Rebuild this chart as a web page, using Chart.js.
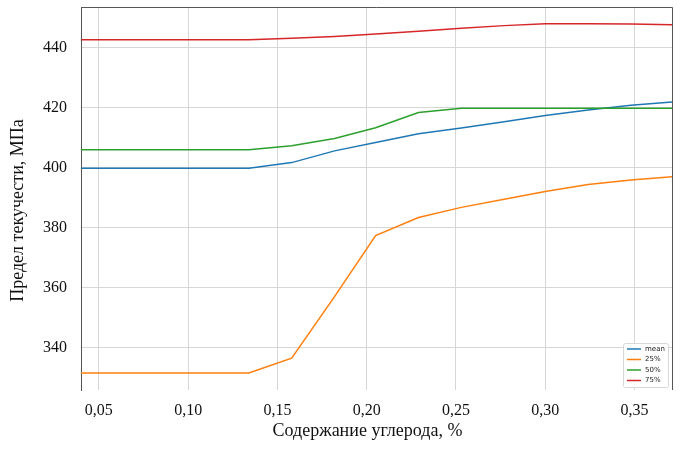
<!DOCTYPE html>
<html>
<head>
<meta charset="utf-8">
<script src="https://cdn.jsdelivr.net/npm/chart.js@4/dist/chart.umd.min.js"></script>
<style>
  html, body { margin: 0; padding: 0; background: #fff; }
  #wrap { width: 680px; height: 450px; }
</style>
</head>
<body>
<div id="wrap"><canvas id="graphCanvas" width="680" height="450"></canvas></div>
<script>
// содержание углерода, %
var carbon = [0.040, 0.063, 0.087, 0.111, 0.134, 0.158, 0.182, 0.205, 0.229, 0.253, 0.277, 0.300, 0.324, 0.348, 0.371];

// предел текучести, МПа
var mean = [399.8, 399.8, 399.8, 399.8, 399.8, 401.7, 405.6, 408.4, 411.3, 413.2, 415.3, 417.4, 419.2, 420.8, 421.9];
var q25  = [331.7, 331.7, 331.7, 331.7, 331.7, 336.6, 357.1, 377.4, 383.4, 386.8, 389.5, 392.1, 394.4, 395.9, 397.0];
var q50  = [406.0, 406.0, 406.0, 406.0, 406.0, 407.3, 409.7, 413.3, 418.4, 419.8, 419.8, 419.8, 419.8, 419.8, 419.8];
var q75  = [442.6, 442.6, 442.6, 442.6, 442.6, 443.1, 443.7, 444.5, 445.4, 446.4, 447.3, 447.9, 447.9, 447.8, 447.6];

var seriesNames = ['mean', '25%', '50%', '75%'];
var seriesColors = ['#1f77b4', '#ff7f0e', '#2ca02c', '#d62728'];

var xTicks = [0.05, 0.10, 0.15, 0.20, 0.25, 0.30, 0.35];
var yTicks = [340, 360, 380, 400, 420, 440];

var xTitle = 'Содержание углерода, %';
var yTitle = 'Предел текучести, МПа';

function points(values) {
    var out = [];
    for (var i in carbon) {
        out.push({ x: carbon[i], y: values[i] });
    }
    return out;
}

var serif = '"Liberation Serif", "Times New Roman", serif';

// top and right frame lines
var framePlugin = {
    id: 'frame',
    afterDraw: function (chart) {
        var a = chart.chartArea, ctx = chart.ctx;
        ctx.save();
        ctx.strokeStyle = '#555';
        ctx.lineWidth = 1;
        ctx.beginPath();
        ctx.moveTo(a.left, a.top + 0.5);
        ctx.lineTo(a.right + 0.5, a.top + 0.5);
        ctx.lineTo(a.right + 0.5, a.bottom);
        ctx.stroke();
        ctx.restore();
    }
};

// axis titles, sitting a little off the centre like in the original
var titlePlugin = {
    id: 'axisTitles',
    afterDraw: function (chart) {
        var a = chart.chartArea, ctx = chart.ctx;
        ctx.save();
        ctx.fillStyle = '#111';
        ctx.font = '18px ' + serif;
        ctx.textAlign = 'center';
        ctx.textBaseline = 'middle';
        ctx.fillText(xTitle, (a.left + a.right) / 2 - 9, a.bottom + 41);
        ctx.translate(18, (a.top + a.bottom) / 2 + 12);
        ctx.rotate(-Math.PI / 2);
        ctx.fillText(yTitle, 0, 0);
        ctx.restore();
    }
};

// small legend in the lower right corner
var cornerLegend = {
    id: 'cornerLegend',
    afterDraw: function (chart) {
        var a = chart.chartArea, ctx = chart.ctx;
        var sets = chart.data.datasets;
        var w = 45, h = 44;
        var bx = a.right - 49, by = a.bottom - 47;
        ctx.save();
        ctx.fillStyle = 'rgba(255,255,255,0.85)';
        ctx.strokeStyle = '#d8d8d8';
        ctx.lineWidth = 1;
        ctx.beginPath();
        ctx.roundRect(bx + 0.5, by + 0.5, w, h, 2);
        ctx.fill();
        ctx.stroke();
        ctx.font = '7px "DejaVu Sans"';
        ctx.textBaseline = 'middle';
        for (var i = 0; i < sets.length; i++) {
            var ly = by + 6 + i * 10.5;
            ctx.strokeStyle = sets[i].borderColor;
            ctx.lineWidth = 1.5;
            ctx.beginPath();
            ctx.moveTo(bx + 4, ly);
            ctx.lineTo(bx + 18, ly);
            ctx.stroke();
            ctx.fillStyle = '#222';
            ctx.fillText(sets[i].label, bx + 22, ly);
        }
        ctx.restore();
    }
};

var chartdata = {
    datasets: [
        { label: seriesNames[0], data: points(mean), borderColor: seriesColors[0], order: 4 },
        { label: seriesNames[1], data: points(q25), borderColor: seriesColors[1], order: 3 },
        { label: seriesNames[2], data: points(q50), borderColor: seriesColors[2], order: 2 },
        { label: seriesNames[3], data: points(q75), borderColor: seriesColors[3], order: 1 }
    ]
};

var graph = new Chart(document.getElementById('graphCanvas'), {
    type: 'line',
    data: chartdata,
    plugins: [framePlugin, titlePlugin, cornerLegend],
    options: {
        responsive: false,
        animation: false,
        devicePixelRatio: 1,
        layout: { padding: { left: 8, right: 8, top: 7, bottom: 8 } },
        elements: {
            point: { radius: 0 },
            line: { borderWidth: 1.5, tension: 0, fill: false }
        },
        plugins: {
            legend: { display: false },
            tooltip: { enabled: false }
        },
        scales: {
            x: {
                type: 'linear',
                min: carbon[0],
                max: carbon[carbon.length - 1],
                afterBuildTicks: function (scale) {
                    scale.ticks = xTicks.map(function (v) { return { value: v }; });
                },
                afterFit: function (scale) {
                    scale.height = 52;
                    scale.paddingLeft = 0;
                    scale.paddingRight = 0;
                },
                border: { display: false },
                grid: { color: '#d6d6d6', lineWidth: 1, drawTicks: false },
                ticks: {
                    color: '#111',
                    padding: 11,
                    maxRotation: 0,
                    font: { family: serif, size: 16 },
                    callback: function (v) { return v.toFixed(2).replace('.', ','); }
                },
                title: { display: false }
            },
            y: {
                min: 326,
                max: 453.5,
                afterBuildTicks: function (scale) {
                    scale.ticks = yTicks.map(function (v) { return { value: v }; });
                },
                afterFit: function (scale) {
                    scale.width = 73;
                    scale.paddingTop = 0;
                    scale.paddingBottom = 0;
                },
                border: { display: true, color: '#555', width: 1 },
                grid: { color: '#d6d6d6', lineWidth: 1, drawTicks: false },
                ticks: {
                    color: '#111',
                    padding: 14,
                    font: { family: serif, size: 16 }
                },
                title: { display: false }
            }
        }
    }
});
</script>
</body>
</html>
